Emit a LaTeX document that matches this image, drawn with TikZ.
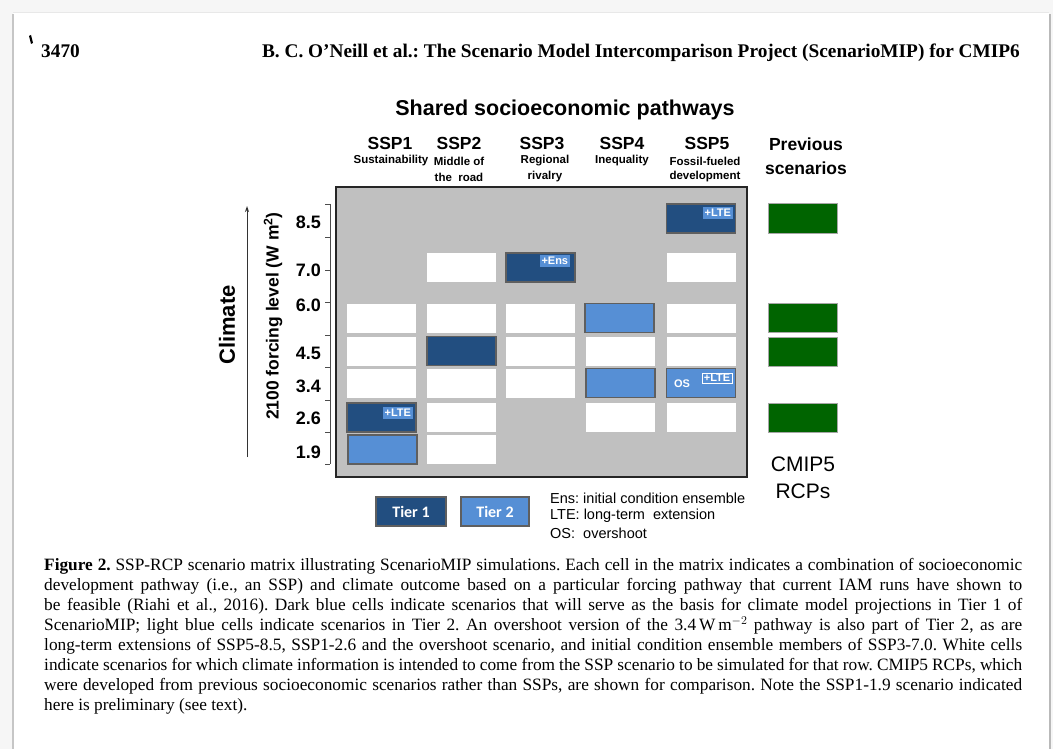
\documentclass[tikz,border=0pt]{standalone}
\usepackage{fontspec}
\setmainfont{Liberation Serif}
\newfontfamily\arial{Liberation Sans}
\newfontfamily\calib{Carlito}
\usetikzlibrary{arrows.meta}
\definecolor{tierone}{RGB}{34,78,128}
\definecolor{tiertwo}{RGB}{86,143,213}
\definecolor{rcpgreen}{RGB}{0,100,0}
\definecolor{matgray}{RGB}{192,192,192}
\definecolor{cellborder}{RGB}{95,95,95}
\newcommand{\fs}[1]{\fontsize{#1}{#1}\selectfont}
\frenchspacing
\tikzset{
  cellbox/.style={minimum width=69pt, minimum height=29pt, inner sep=0pt, outer sep=0pt},
  wcell/.style={cellbox, fill=white},
  tonecell/.style={cellbox, fill=tierone, draw=cellborder, line width=1.4pt},
  ttwocell/.style={cellbox, fill=tiertwo, draw=cellborder, line width=1.4pt},
  rcpcell/.style={cellbox, fill=rcpgreen, draw=gray!70, line width=1pt},
  tagbox/.style={fill=tiertwo, text=white, font=\arial\bfseries\fs{11}, inner xsep=1.5pt, inner ysep=2pt, minimum width=30pt, anchor=north east},
  ssp/.style={font=\arial\bfseries\fs{17.5}},
  sspsub/.style={font=\arial\bfseries\fs{11.5}},
  lvl/.style={font=\arial\bfseries\fs{18}, anchor=east, inner sep=0pt},
  legtext/.style={font=\arial\fs{14.5}, anchor=west, inner sep=0pt},
  tierlab/.style={cellbox, draw=cellborder, line width=1.2pt, text=white, font=\calib\bfseries\fs{16}},
}
\begin{document}
\begin{tikzpicture}[x=1pt,y=-1pt]
\useasboundingbox (0,0) rectangle (1053,749);
% page
\fill[gray!7] (0,0) rectangle (1053,749);
\fill[white] (13,13) rectangle (1049,749);
\draw[gray!18, line width=1pt] (13,13) -- (1049,13);
\draw[gray!45, line width=2pt] (13,14) -- (13,749);
\draw[gray!55, line width=2.5pt] (1050,14) -- (1050,749);
% header
\fill[black] (29,36) -- (31,35) -- (33,43) -- (31,44) -- cycle;
\node[anchor=base west, inner sep=0pt, font=\bfseries\fs{19.3}] (pagenum) at (41,58) {3470};
\node[anchor=base east, inner sep=0pt, font=\bfseries\fs{19.3}] (runhead) at (1020,58) {B. C. O’Neill et al.: The Scenario Model Intercomparison Project (ScenarioMIP) for CMIP6};
% titles
\node[font=\arial\bfseries\fs{21.5}] (title) at (565,110) {Shared socioeconomic pathways};
\node[ssp] (h1) at (390,143) {SSP1};
\node[ssp] (h2) at (459,143) {SSP2};
\node[ssp] (h3) at (542,143) {SSP3};
\node[ssp] (h4) at (622,143) {SSP4};
\node[ssp] (h5) at (707,143) {SSP5};
\node[ssp] (hp) at (806,144) {Previous};
\node[ssp] (hp2) at (806,168) {scenarios};
\node[sspsub] (s1) at (391,161) {Sustainability};
\node[sspsub] (s2a) at (459,161) {Middle of};
\node[sspsub] (s2b) at (459,177) {the\ \ road};
\node[sspsub] (s3a) at (545,161) {Regional};
\node[sspsub] (s3b) at (545,177) {rivalry};
\node[sspsub] (s4) at (622,161) {Inequality};
\node[sspsub] (s5a) at (705,161) {Fossil-fueled};
\node[sspsub] (s5b) at (705,177) {development};
% matrix background
\node[draw=black!85, line width=1.5pt, fill=matgray, minimum width=411pt, minimum height=290pt, inner sep=0pt] (mat) at (541.5,332) {};
% axis
\coordinate (axtop) at (330,204);
\coordinate (axbot) at (330,464);
\draw[black!70, line width=0.8pt] (axtop) -- (axbot);
\foreach \yy in {204,237,270,302,335,367,400,432,464} \draw[black!70, line width=0.8pt] (325,\yy) -- (330,\yy);
\node[lvl] (l85) at (321,222) {8.5};
\node[lvl] (l70) at (321,270) {7.0};
\node[lvl] (l60) at (321,305) {6.0};
\node[lvl] (l45) at (321,353) {4.5};
\node[lvl] (l34) at (321,386) {3.4};
\node[lvl] (l26) at (321,418) {2.6};
\node[lvl] (l19) at (321,452) {1.9};
\node[rotate=90, font=\arial\bfseries\fs{17.5}] (ylab) at (273,316) {2100 forcing level (W m\textsuperscript{2})};
\node[rotate=90, font=\arial\bfseries\fs{22}] (climate) at (227,325) {Climate};
\coordinate (arrB) at (247,457);
\coordinate (arrT) at (247,206);
\draw[black!80, line width=0.8pt, -{Stealth[length=6pt, width=4pt, open]}] (arrB) -- (arrT);
% SSP1
\node[wcell] (c1r60) at (381.5,318) {};
\node[wcell] (c1r45) at (381.5,351) {};
\node[wcell] (c1r34) at (381.5,383) {};
\node[tonecell] (c1r26) at (381.5,417.5) {};
\node[ttwocell] (c1r19) at (382.5,449.5) {};
% SSP2
\node[wcell] (c2r70) at (461.5,267.5) {};
\node[wcell] (c2r60) at (461.5,318) {};
\node[tonecell] (c2r45) at (461.5,351) {};
\node[wcell] (c2r34) at (461.5,383) {};
\node[wcell] (c2r26) at (461.5,417.5) {};
\node[wcell] (c2r19) at (461.5,449.5) {};
% SSP3
\node[tonecell] (c3r70) at (540.5,267.5) {};
\node[wcell] (c3r60) at (540.5,318) {};
\node[wcell] (c3r45) at (540.5,351) {};
\node[wcell] (c3r34) at (540.5,383) {};
% SSP4
\node[ttwocell] (c4r60) at (619.5,318) {};
\node[wcell] (c4r45) at (620,351) {};
\node[ttwocell] (c4r34) at (620.5,383) {};
\node[wcell] (c4r26) at (620,417.5) {};
% SSP5
\node[tonecell] (c5r85) at (701,218.5) {};
\node[wcell] (c5r70) at (701,267.5) {};
\node[wcell] (c5r60) at (701,318) {};
\node[wcell] (c5r45) at (701,351) {};
\node[ttwocell] (c5r34) at (701,383) {};
\node[wcell] (c5r26) at (701,417.5) {};
% tags
\node[tagbox] (t85) at ([xshift=-2.5pt,yshift=-3pt]c5r85.north east) {+LTE};
\node[tagbox] (t70) at ([xshift=-5pt,yshift=-2pt]c3r70.north east) {+Ens};
\node[tagbox] (t26) at ([xshift=-3pt,yshift=-4pt]c1r26.north east) {+LTE};
\node[tagbox, draw=white, line width=0.8pt, inner ysep=1.5pt] (t34) at ([xshift=-3pt,yshift=-4pt]c5r34.north east) {+LTE};
\node[font=\arial\bfseries\fs{11}, text=white] (os) at (682,384) {OS};
% previous scenarios
\node[rcpcell] (g85) at (802.5,218.5) {};
\node[rcpcell] (g60) at (802.5,317.5) {};
\node[rcpcell] (g45) at (802.5,352) {};
\node[rcpcell] (g26) at (802.5,417.5) {};
\node[font=\arial\fs{21}] (cmip) at (803,464) {CMIP5};
\node[font=\arial\fs{21}] (rcps) at (803,491) {RCPs};
% legend
\node[tierlab, fill=tierone, minimum width=70pt] (leg1) at (411,511.5) {Tier 1};
\node[tierlab, fill=tiertwo, minimum width=68pt] (leg2) at (495,511.5) {Tier 2};
\node[legtext] (le1) at (550,498) {Ens: initial condition ensemble};
\node[legtext] (le2) at (550,516) {LTE: long-term\ \ extension};
\node[legtext] (le3) at (550,533) {OS:\ \ overshoot};
% caption
\node[anchor=north west, inner sep=0pt, text width=978pt, align=justify, font={\fontsize{17.3}{20.1}\selectfont}] (caption) at (44,556) {\strut\textbf{Figure 2.} SSP-RCP scenario matrix illustrating ScenarioMIP simulations. Each cell in the matrix indicates a combination of socioeconomic\linebreak
development pathway (i.e., an SSP) and climate outcome based on a particular forcing pathway that current IAM runs have shown to\linebreak
be feasible (Riahi et al., 2016). Dark blue cells indicate scenarios that will serve as the basis for climate model projections in Tier 1 of\linebreak
ScenarioMIP; light blue cells indicate scenarios in Tier 2. An overshoot version of the 3.4\,W\,m$^{-2}$ pathway is also part of Tier 2, as are\linebreak
long-term extensions of SSP5-8.5, SSP1-2.6 and the overshoot scenario, and initial condition ensemble members of SSP3-7.0. White cells\linebreak
indicate scenarios for which climate information is intended to come from the SSP scenario to be simulated for that row. CMIP5 RCPs, which\linebreak
were developed from previous socioeconomic scenarios rather than SSPs, are shown for comparison. Note the SSP1-1.9 scenario indicated\linebreak
here is preliminary (see text).\par};
\end{tikzpicture}
\end{document}
